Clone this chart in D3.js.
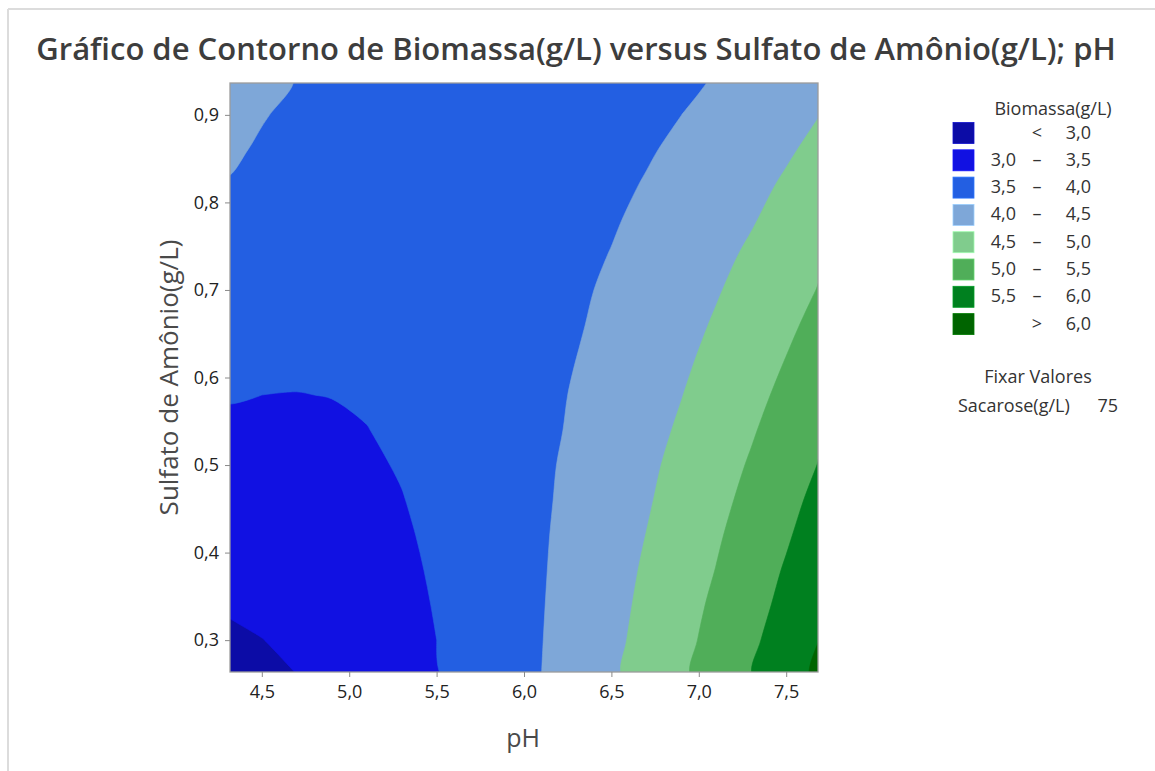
<!DOCTYPE html>
<html>
<head>
<meta charset="utf-8">
<script src="https://cdn.jsdelivr.net/npm/d3@7/dist/d3.min.js"></script>
<style>
  html, body { margin: 0; padding: 0; background: #fff; }
  svg { display: block; }
  text { font-family: "Open Sans", "Noto Sans", sans-serif; }
</style>
</head>
<body>
<svg id="chart" width="1155" height="771"></svg>
<script>
// ---- data ----
const phValues = [4.3, 4.5, 4.7, 4.9, 5.1, 5.3, 5.5, 5.7, 5.9, 6.1, 6.3, 6.5, 6.7, 6.9, 7.1, 7.3, 7.5, 7.7];
const sulfatoValues = [0.26, 0.30, 0.34, 0.38, 0.42, 0.46, 0.50, 0.54, 0.58, 0.62, 0.66, 0.70, 0.74, 0.78, 0.82, 0.86, 0.90, 0.94];
// Biomassa(g/L): one row per sulfatoValues entry, one column per phValues entry
const biomassa = [
  [2.86, 2.92, 2.999, 3.09, 3.21, 3.33, 3.48, 3.64, 3.81, 4.00, 4.21, 4.43, 4.67, 4.93, 5.20, 5.49, 5.79, 6.11],
  [2.94, 2.995, 3.06, 3.15, 3.25, 3.37, 3.4997, 3.65, 3.81, 3.99, 4.19, 4.40, 4.63, 4.88, 5.14, 5.42, 5.71, 6.02],
  [3.03, 3.07, 3.13, 3.20, 3.29, 3.40, 3.52, 3.66, 3.81, 3.98, 4.17, 4.37, 4.59, 4.83, 5.08, 5.34, 5.62, 5.92],
  [3.11, 3.14, 3.19, 3.26, 3.33, 3.43, 3.54, 3.67, 3.81, 3.97, 4.15, 4.34, 4.55, 4.77, 5.01, 5.27, 5.54, 5.83],
  [3.20, 3.22, 3.25, 3.31, 3.38, 3.46, 3.56, 3.68, 3.81, 3.96, 4.13, 4.31, 4.505, 4.72, 4.95, 5.19, 5.45, 5.73],
  [3.28, 3.29, 3.32, 3.36, 3.42, 3.49, 3.58, 3.69, 3.81, 3.95, 4.10, 4.27, 4.46, 4.66, 4.88, 5.12, 5.37, 5.63],
  [3.36, 3.36, 3.38, 3.41, 3.46, 3.52, 3.60, 3.70, 3.81, 3.94, 4.08, 4.24, 4.42, 4.61, 4.82, 5.04, 5.28, 5.53],
  [3.44, 3.43, 3.44, 3.46, 3.4945, 3.55, 3.62, 3.70, 3.80, 3.92, 4.05, 4.20, 4.37, 4.55, 4.75, 4.96, 5.19, 5.44],
  [3.521, 3.500, 3.495, 3.505, 3.53, 3.57, 3.63, 3.71, 3.80, 3.91, 4.03, 4.17, 4.32, 4.49, 4.68, 4.88, 5.10, 5.34],
  [3.60, 3.57, 3.55, 3.55, 3.57, 3.60, 3.65, 3.71, 3.79, 3.89, 4.002, 4.13, 4.27, 4.43, 4.61, 4.80, 5.01, 5.23],
  [3.68, 3.64, 3.61, 3.60, 3.60, 3.63, 3.66, 3.72, 3.79, 3.87, 3.97, 4.09, 4.23, 4.37, 4.54, 4.72, 4.92, 5.13],
  [3.76, 3.70, 3.67, 3.645, 3.64, 3.65, 3.68, 3.72, 3.78, 3.85, 3.95, 4.05, 4.18, 4.31, 4.47, 4.64, 4.83, 5.03],
  [3.83, 3.77, 3.72, 3.69, 3.67, 3.67, 3.69, 3.72, 3.77, 3.84, 3.92, 4.01, 4.12, 4.25, 4.40, 4.56, 4.73, 4.93],
  [3.91, 3.83, 3.78, 3.73, 3.71, 3.70, 3.70, 3.72, 3.76, 3.82, 3.89, 3.97, 4.07, 4.19, 4.32, 4.47, 4.64, 4.82],
  [3.98, 3.90, 3.83, 3.78, 3.74, 3.72, 3.71, 3.73, 3.75, 3.80, 3.85, 3.93, 4.02, 4.13, 4.25, 4.39, 4.55, 4.72],
  [4.06, 3.96, 3.88, 3.82, 3.77, 3.74, 3.72, 3.72, 3.74, 3.77, 3.82, 3.89, 3.97, 4.06, 4.18, 4.30, 4.45, 4.61],
  [4.13, 4.02, 3.93, 3.86, 3.80, 3.76, 3.73, 3.72, 3.73, 3.75, 3.79, 3.84, 3.91, 3.999, 4.10, 4.22, 4.35, 4.503],
  [4.20, 4.09, 3.99, 3.90, 3.83, 3.78, 3.74, 3.72, 3.72, 3.73, 3.76, 3.80, 3.86, 3.93, 4.02, 4.13, 4.26, 4.39]
];
const contourLevels = [3.0, 3.5, 4.0, 4.5, 5.0, 5.5, 6.0];
const bandColors = ["#0c0ca6", "#1111e2", "#235fe2", "#7ea7d8", "#80cc8d", "#50ae59", "#00801f", "#006400"];
const legendLow  = ["", "3,0", "3,5", "4,0", "4,5", "5,0", "5,5", ""];
const legendSep  = ["<", "–", "–", "–", "–", "–", "–", ">"];
const legendHigh = ["3,0", "3,5", "4,0", "4,5", "5,0", "5,5", "6,0", "6,0"];
const xTicks = [4.5, 5.0, 5.5, 6.0, 6.5, 7.0, 7.5];
const yTicks = [0.3, 0.4, 0.5, 0.6, 0.7, 0.8, 0.9];
const phDomain = [4.318, 7.682];
const sulfatoDomain = [0.2636, 0.9364];
const holdName = "Sacarose(g/L)";
const holdValue = "75";

// ---- layout ----
const svg = d3.select("#chart");
const plot = { left: 230, right: 818, top: 83, bottom: 672 };
const x = d3.scaleLinear().domain(phDomain).range([plot.left, plot.right]);
const y = d3.scaleLinear().domain(sulfatoDomain).range([plot.bottom, plot.top]);
const commaFmt = v => d3.format(".1f")(v).replace(".", ",");

// outer light frame
svg.append("line").attr("x1", 8).attr("y1", 9).attr("x2", 1155).attr("y2", 9)
  .attr("stroke", "#dcdcdc").attr("stroke-width", 2);
svg.append("line").attr("x1", 8).attr("y1", 9).attr("x2", 8).attr("y2", 771)
  .attr("stroke", "#dcdcdc").attr("stroke-width", 2);

// title
svg.append("text")
  .attr("x", 576).attr("y", 60)
  .attr("text-anchor", "middle")
  .attr("font-size", 31).attr("font-weight", 600)
  .attr("fill", "#3d3d3d")
  .text("Gráfico de Contorno de Biomassa(g/L) versus Sulfato de Amônio(g/L); pH");

// contours
const nx = phValues.length, ny = sulfatoValues.length;
const flat = biomassa.flat();
const gx = d3.scaleLinear().domain([0.5, nx - 0.5]).range([phValues[0], phValues[nx - 1]]);
const gy = d3.scaleLinear().domain([0.5, ny - 0.5]).range([sulfatoValues[0], sulfatoValues[ny - 1]]);
const thresholds = [d3.min(flat) - 1].concat(contourLevels);
const contours = d3.contours().size([nx, ny]).thresholds(thresholds)(flat);
const ringLine = d3.line()
  .x(p => x(gx(p[0])))
  .y(p => y(gy(p[1])))
  .curve(d3.curveCatmullRomClosed.alpha(0.5));
const contourPath = c => c.coordinates
  .map(poly => poly.map(ring => ringLine(ring.slice(0, -1))).join(""))
  .join("");

svg.append("clipPath").attr("id", "plotclip")
  .append("rect").attr("x", plot.left).attr("y", plot.top)
  .attr("width", plot.right - plot.left).attr("height", plot.bottom - plot.top);

svg.append("g").attr("clip-path", "url(#plotclip)")
  .selectAll("path").data(contours).join("path")
  .attr("d", contourPath)
  .attr("fill", (d, i) => bandColors[i])
  .attr("stroke", (d, i) => bandColors[i])
  .attr("stroke-width", 0.6);

// frame
svg.append("rect")
  .attr("x", plot.left).attr("y", plot.top)
  .attr("width", plot.right - plot.left).attr("height", plot.bottom - plot.top)
  .attr("fill", "none").attr("stroke", "#9c9c9c").attr("stroke-width", 1.3);

// axes
const xAxis = d3.axisBottom(x).tickValues(xTicks).tickFormat(commaFmt).tickSize(5).tickPadding(8);
const gX = svg.append("g").attr("transform", `translate(0,${plot.bottom})`).call(xAxis);
const yAxis = d3.axisLeft(y).tickValues(yTicks).tickFormat(commaFmt).tickSize(5).tickPadding(6);
const gY = svg.append("g").attr("transform", `translate(${plot.left},0)`).call(yAxis);
[gX, gY].forEach(g => {
  g.select(".domain").remove();
  g.selectAll(".tick line").attr("stroke", "#8a8a8a");
  g.selectAll(".tick text").attr("fill", "#222").attr("font-size", 18)
    .attr("font-family", "'Open Sans', 'Noto Sans', sans-serif");
});

// axis titles
svg.append("text")
  .attr("x", x(6.0) - 1).attr("y", 747)
  .attr("text-anchor", "middle").attr("font-size", 25).attr("fill", "#4a4a4a")
  .text("pH");
svg.append("text")
  .attr("transform", `translate(178,${(plot.top + plot.bottom) / 2}) rotate(-90)`)
  .attr("text-anchor", "middle").attr("font-size", 26).attr("fill", "#4a4a4a")
  .text("Sulfato de Amônio(g/L)");

// legend
const lg = svg.append("g");
lg.append("text").attr("x", 1053).attr("y", 115).attr("text-anchor", "middle")
  .attr("font-size", 18).attr("fill", "#333").text("Biomassa(g/L)");
const rowY = i => 122.5 + i * 27.3;
bandColors.forEach((c, i) => {
  lg.append("rect").attr("x", 953).attr("y", rowY(i)).attr("width", 21).attr("height", 21)
    .attr("fill", c).attr("stroke", d3.color(c).brighter(0.6)).attr("stroke-width", 0.8);
  const ty = rowY(i) + 16;
  lg.append("text").attr("x", 1016).attr("y", ty).attr("text-anchor", "end")
    .attr("font-size", 18).attr("fill", "#333").text(legendLow[i]);
  lg.append("text").attr("x", 1037).attr("y", ty).attr("text-anchor", "middle")
    .attr("font-size", 18).attr("fill", "#333").text(legendSep[i]);
  lg.append("text").attr("x", 1091).attr("y", ty).attr("text-anchor", "end")
    .attr("font-size", 18).attr("fill", "#333").text(legendHigh[i]);
});
lg.append("text").attr("x", 1038).attr("y", 383).attr("text-anchor", "middle")
  .attr("font-size", 18).attr("fill", "#333").text("Fixar Valores");
lg.append("text").attr("x", 958).attr("y", 412).attr("text-anchor", "start")
  .attr("font-size", 18).attr("fill", "#333").text(holdName);
lg.append("text").attr("x", 1118).attr("y", 412).attr("text-anchor", "end")
  .attr("font-size", 18).attr("fill", "#333").text(holdValue);
</script>
</body>
</html>
